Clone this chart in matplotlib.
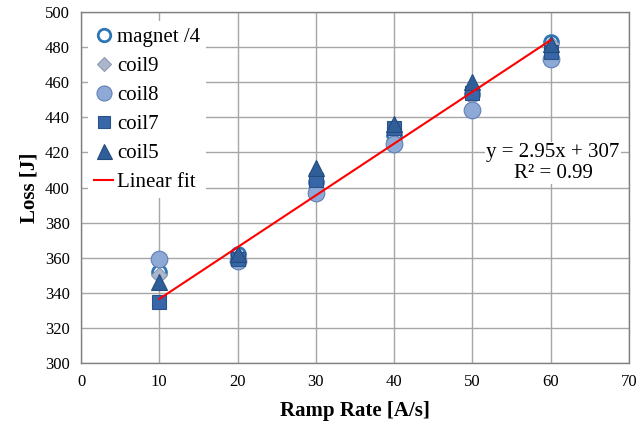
import numpy as np
import matplotlib
matplotlib.use("Agg")
import matplotlib.pyplot as plt

plt.rcParams['font.family'] = ['Liberation Serif', 'DejaVu Serif']

ramp = [10, 20, 30, 40, 50, 60]
magnet_q = [352, 362, 403, 430, 453, 483]
coil9 = [350, 361, 400, 427, 452, 482]
coil8 = [359, 358, 397, 425, 444, 473]
coil7 = [335, 359, 404, 434, 454, 477]
coil5 = [346, 362, 411, 436, 460, 482]
fit_slope = 2.95
fit_icept = 307
fit_r2 = 0.99

fig = plt.figure(figsize=(6.43, 4.28), dpi=100)
ax = fig.add_axes([81 / 643, 1 - 363 / 428, 548 / 643, 351 / 428])

ax.plot(ramp, magnet_q, 'o', ms=10, mfc='white', mec='#2E75B6', mew=2.0,
        label='magnet /4', zorder=3)
ax.plot(ramp, coil9, 'D', ms=8, mfc='#A9B6CC', mec='#8C9BB5', mew=0.8,
        label='coil9', zorder=4)
ax.plot(ramp, coil8, 'o', ms=12, mfc='#8FA9D6', mec='#5F7FB5', mew=0.8,
        label='coil8', zorder=5)
ax.plot(ramp, coil7, 's', ms=10, mfc='#3767A8', mec='#2A5288', mew=0.8,
        label='coil7', zorder=6)
ax.plot(ramp, coil5, '^', ms=12, mfc='#2F5E99', mec='#234B7E', mew=0.8,
        label='coil5', zorder=7)

xf = np.array([ramp[0], ramp[-1]])
ax.plot(xf, fit_slope * xf + fit_icept, color='#FF0000', lw=1.5,
        label='Linear fit', zorder=8)

ax.set_xlim(0, 70)
ax.set_ylim(300, 500)
ax.set_xticks(range(0, 71, 10))
ax.set_yticks(range(300, 501, 20))
ax.tick_params(labelsize=12, length=0, pad=8)
ax.grid(True, color='#A6A6A6', lw=1.0)
ax.set_axisbelow(True)
for s in ax.spines.values():
    s.set_color('#808080')
    s.set_linewidth(1.0)

ax.set_xlabel('Ramp Rate [A/s]', fontsize=15, fontweight='bold', labelpad=8)
ax.set_ylabel('Loss [J]', fontsize=15, fontweight='bold', labelpad=4)

ax.text(60.3, 414, f'y = {fit_slope}x + {fit_icept}\nR² = {fit_r2}', fontsize=15,
        ha='center', va='center', linespacing=1.1,
        bbox=dict(facecolor='white', edgecolor='none', pad=1))

leg = ax.legend(loc='upper left', bbox_to_anchor=(0.005, 0.985), fontsize=15,
                frameon=True, fancybox=False, handlelength=0.9,
                handletextpad=0.2, labelspacing=0.45, borderpad=0.3,
                borderaxespad=0.2, markerscale=0.9)
leg.get_frame().set_facecolor('white')
leg.get_frame().set_edgecolor('none')
leg.get_frame().set_alpha(1.0)

fig.savefig('out.png', dpi=100)
